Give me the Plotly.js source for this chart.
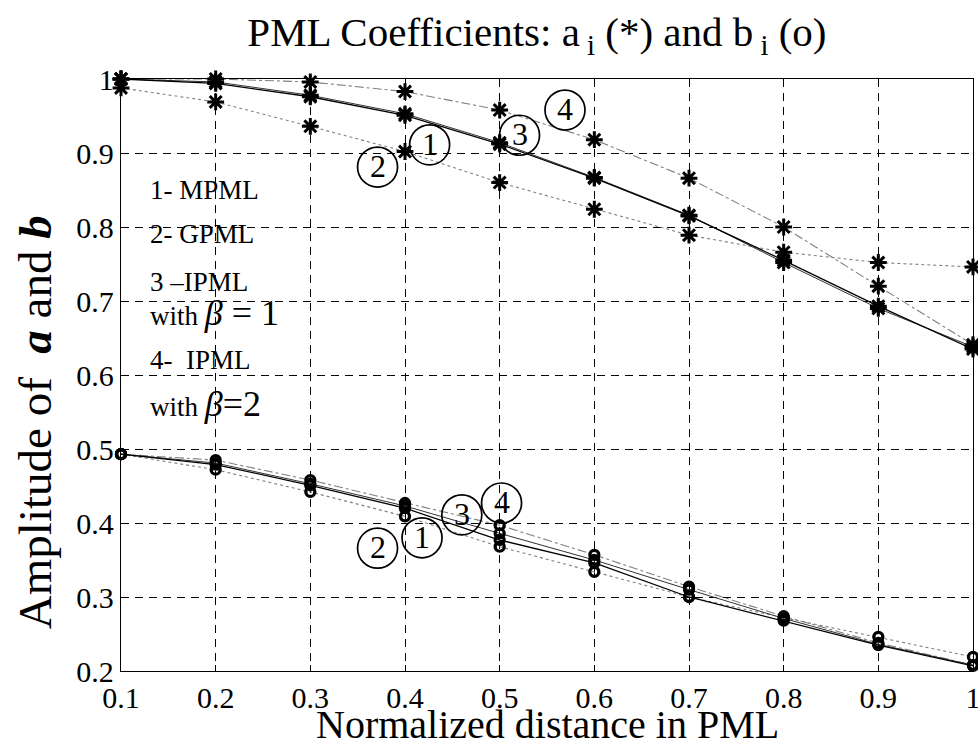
<!DOCTYPE html>
<html>
<head>
<meta charset="utf-8">
<script src="https://cdn.plot.ly/plotly-3.0.1.min.js"></script>
<style>html,body{margin:0;padding:0;background:#fff;}#chart{width:978px;height:744px;}</style>
</head>
<body>
<div id="chart"></div>
<script>
// ---- data ----
const xDist = [0.1, 0.2, 0.3, 0.4, 0.5, 0.6, 0.7, 0.8, 0.9, 1.0];
// a_i coefficients (*)
const aMPML  = [1.000, 0.994, 0.976, 0.951, 0.912, 0.866, 0.815, 0.755, 0.693, 0.635];
const aGPML  = [0.988, 0.969, 0.936, 0.902, 0.860, 0.824, 0.789, 0.766, 0.752, 0.746];
const aIPML1 = [1.000, 0.996, 0.978, 0.953, 0.914, 0.867, 0.816, 0.752, 0.690, 0.638];
const aIPML2 = [1.000, 1.000, 0.996, 0.983, 0.958, 0.918, 0.866, 0.800, 0.720, 0.641];
// b_i coefficients (o)
const bMPML  = [0.493, 0.479, 0.451, 0.420, 0.377, 0.346, 0.300, 0.268, 0.235, 0.207];
const bGPML  = [0.493, 0.472, 0.442, 0.409, 0.368, 0.334, 0.300, 0.272, 0.246, 0.219];
const bIPML1 = [0.493, 0.481, 0.453, 0.423, 0.386, 0.350, 0.310, 0.271, 0.236, 0.208];
const bIPML2 = [0.493, 0.485, 0.458, 0.427, 0.397, 0.357, 0.314, 0.274, 0.238, 0.208];
const xTickVals = [0.1, 0.2, 0.3, 0.4, 0.5, 0.6, 0.7, 0.8, 0.9, 1.0];
const xTickText = ['0.1', '0.2', '0.3', '0.4', '0.5', '0.6', '0.7', '0.8', '0.9', '1'];
const yTickVals = [0.2, 0.3, 0.4, 0.5, 0.6, 0.7, 0.8, 0.9, 1.0];
const yTickText = ['0.2', '0.3', '0.4', '0.5', '0.6', '0.7', '0.8', '0.9', '1'];
const curveLabels = ['1', '2', '3', '4'];
const legendLines = ['1- MPML', '2- GPML', '3 \u2013IPML',
  'with <span style="font-size:36px"><i>\u03b2</i> = 1</span>', '4-  IPML',
  'with <span style="font-size:36px"><i>\u03b2</i>=2</span>'];
const titleText = 'PML Coefficients: a<sub> i</sub> (*) and b<sub> i</sub> (o)';
const xTitleText = 'Normalized distance in PML';
const yTitleText = 'Amplitude of&nbsp; <b><i>a</i></b> and <b><i>b</i></b>';

// ---- styles ----
const FONT = 'Liberation Serif, Times New Roman, serif';
const lineStyles = {
  MPML:  {color: '#000000', width: 1.3, dash: 'solid'},
  GPML:  {color: '#808080', width: 1.1, dash: 'dot'},
  IPML1: {color: '#333333', width: 1.0, dash: 'solid'},
  IPML2: {color: '#808080', width: 1.1, dash: 'dashdot'}
};
function trace(y, style, sym) {
  const star = sym === 'star';
  return {
    x: xDist, y: y, type: 'scatter', mode: 'lines+markers', cliponaxis: false,
    line: style,
    marker: star ? {symbol: 'asterisk-open', size: 14, color: '#000', line: {color: '#000', width: 3}}
                 : {symbol: 'circle-open', size: 9, color: '#000', line: {color: '#000', width: 3.3}},
    showlegend: false, hoverinfo: 'skip'
  };
}
const data = [
  trace(aGPML, lineStyles.GPML, 'star'),
  trace(aIPML2, lineStyles.IPML2, 'star'),
  trace(aIPML1, lineStyles.IPML1, 'star'),
  trace(aMPML, lineStyles.MPML, 'star'),
  trace(bGPML, lineStyles.GPML, 'circ'),
  trace(bIPML2, lineStyles.IPML2, 'circ'),
  trace(bIPML1, lineStyles.IPML1, 'circ'),
  trace(bMPML, lineStyles.MPML, 'circ')
];

// circled curve labels: positions [x, y] for labels 1..4, top group and bottom group
const labelPosA = [[0.426, 0.911], [0.371, 0.881], [0.521, 0.924], [0.569, 0.958]];
const labelPosB = [[0.418, 0.380], [0.371, 0.366], [0.460, 0.411], [0.502, 0.427]];
const shapes = [];
const annotations = [];
[labelPosA, labelPosB].forEach(group => {
  group.forEach((p, i) => {
    shapes.push({type: 'circle', xref: 'x', yref: 'y', xsizemode: 'pixel', ysizemode: 'pixel',
      xanchor: p[0], yanchor: p[1], x0: -20, x1: 20, y0: -20, y1: 20,
      line: {color: '#000', width: 1.7}, fillcolor: 'rgba(255,255,255,0)', layer: 'above'});
    annotations.push({x: p[0], y: p[1], xref: 'x', yref: 'y', text: curveLabels[i], showarrow: false,
      font: {family: FONT, size: 32, color: '#000'}, xanchor: 'center', yanchor: 'middle', yshift: 1});
  });
});
const legendY = [0.850, 0.791, 0.726, 0.684, 0.620, 0.561];
legendLines.forEach((t, i) => {
  annotations.push({x: 0.129, y: legendY[i], xref: 'x', yref: 'y', text: t, showarrow: false,
    xanchor: 'left', yanchor: 'middle', font: {family: FONT, size: 27, color: '#000'}});
});
// axis titles drawn as annotations to reproduce their placement
annotations.push({xref: 'paper', yref: 'paper', x: 0.5, y: -0.091, xanchor: 'center', yanchor: 'middle',
  text: xTitleText, showarrow: false, font: {family: FONT, size: 40, color: '#000'}});
annotations.push({xref: 'paper', yref: 'paper', x: -0.1, y: 0.42, xanchor: 'center', yanchor: 'middle',
  text: yTitleText, textangle: -90, showarrow: false, font: {family: FONT, size: 47, color: '#000'}});

const axisCommon = {
  showline: true, linecolor: '#000', linewidth: 1.2, mirror: true,
  ticks: 'inside', ticklen: 6, tickcolor: '#000',
  showgrid: true, gridcolor: '#000', gridwidth: 1, griddash: '8px,6px',
  zeroline: false, tickfont: {family: FONT, size: 30, color: '#000'},
  ticklabeloverflow: 'allow', automargin: false
};
const layout = {
  width: 978, height: 744,
  margin: {l: 121, r: 5, t: 79, b: 73},
  paper_bgcolor: '#fff', plot_bgcolor: '#fff',
  title: {text: titleText, xref: 'container', yref: 'container', x: 0.549, xanchor: 'center',
    y: 0.957, yanchor: 'middle', font: {family: FONT, size: 41, color: '#000'}},
  xaxis: Object.assign({}, axisCommon, {range: [0.1, 1.0], tickvals: xTickVals, ticktext: xTickText}),
  yaxis: Object.assign({}, axisCommon, {range: [0.2, 1.0], tickvals: yTickVals, ticktext: yTickText}),
  shapes: shapes,
  annotations: annotations
};
Plotly.newPlot('chart', data, layout, {staticPlot: true, displayModeBar: false});
</script>
</body>
</html>
